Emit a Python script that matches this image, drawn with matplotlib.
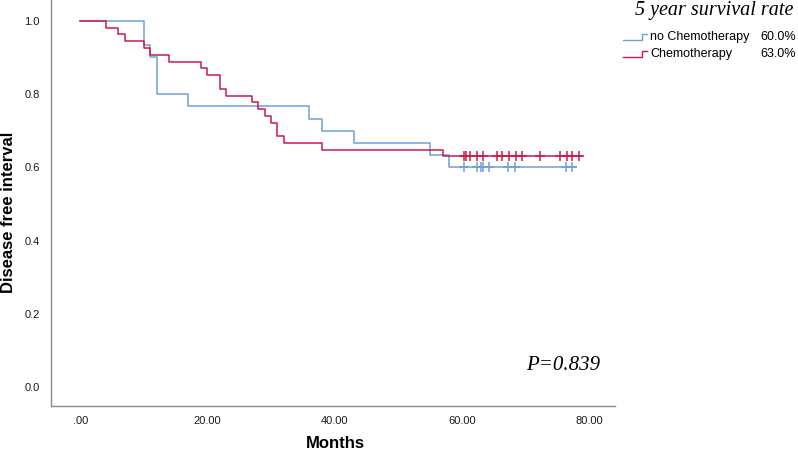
import numpy as np
import matplotlib
matplotlib.use("Agg")
import matplotlib.pyplot as plt
from matplotlib.lines import Line2D

# Kaplan-Meier steps (months, survival after the drop)
no_chemo_times = [0, 10, 11, 12, 17, 36, 38, 43, 55, 58]
no_chemo_surv = [1.0, 0.933, 0.9, 0.8, 0.767, 0.733, 0.7, 0.667, 0.633, 0.6]
no_chemo_end = 78.0
no_chemo_censored = [60.3, 62.4, 63.1, 63.4, 64.3, 67.3, 68.3, 76.4, 77.3]

chemo_times = [0, 4, 6, 7, 10, 11, 14, 19, 20, 22, 23, 27, 28, 29, 30, 31, 32, 38, 57]
chemo_surv = [1.0, 0.981, 0.963, 0.944, 0.926, 0.907, 0.889, 0.870, 0.852, 0.815,
              0.796, 0.778, 0.759, 0.741, 0.722, 0.685, 0.667, 0.648, 0.630]
chemo_end = 78.9
chemo_censored = [60.3, 60.7, 61.3, 62.4, 63.3, 65.5, 66.4, 67.5, 68.5, 69.4,
                  72.3, 75.5, 76.5, 77.4, 78.5]

group_names = ["no Chemotherapy", "Chemotherapy"]
five_year_rates = ["60.0%", "63.0%"]
x_ticks = [0, 20, 40, 60, 80]
x_tick_labels = [".00", "20.00", "40.00", "60.00", "80.00"]
y_ticks = [0.0, 0.2, 0.4, 0.6, 0.8, 1.0]
p_value_text = "P=0.839"

BLUE = "#6f9fd6"
RED = "#cc1a4c"
SANS = ["Liberation Sans", "DejaVu Sans"]
SERIF = ["Liberation Serif", "DejaVu Serif"]

W, H = 798, 453


def fx(px):
    return px / W


def fy(py):
    return 1 - py / H


def surv_at(times, surv, t):
    idx = np.searchsorted(times, t, side="right") - 1
    return np.asarray(surv)[idx]


fig = plt.figure(figsize=(W / 100, H / 100), dpi=100)
ax = fig.add_axes([fx(51), fy(406), fx(615) - fx(51), fy(0) - fy(406)])

series = [
    (no_chemo_times, no_chemo_surv, no_chemo_end, no_chemo_censored, BLUE),
    (chemo_times, chemo_surv, chemo_end, chemo_censored, RED),
]
for times, surv, end, censored, color in series:
    ax.step(times + [end], surv + [surv[-1]], where="post", color=color, linewidth=1.1)
    ax.plot(censored, surv_at(times, surv, censored), linestyle="none", marker="+",
            markersize=7, markeredgewidth=1.1, color=color)

ax.set_xlim(-4.6, 84.1)
ax.set_ylim(-0.052, 1.057)
ax.set_xticks(x_ticks)
ax.set_xticklabels(x_tick_labels)
ax.set_yticks(y_ticks)
ax.set_yticklabels([f"{v:.1f}" for v in y_ticks])
ax.tick_params(length=0, labelsize=8, labelcolor="#1a1a1a")
ax.tick_params(axis="y", pad=8)
ax.tick_params(axis="x", pad=7)
for lab in ax.get_xticklabels() + ax.get_yticklabels():
    lab.set_family(SANS)
for side in ("top", "right"):
    ax.spines[side].set_visible(False)
for side in ("left", "bottom"):
    ax.spines[side].set_color("#8a8a8a")
    ax.spines[side].set_linewidth(1.0)

fig.text(fx(9), fy(212), "Disease free interval", rotation=90, ha="center", va="center",
         fontsize=12, fontweight="bold", family=SANS)
fig.text(fx(335), fy(444), "Months", ha="center", va="center",
         fontsize=12, fontweight="bold", family=SANS)

fig.text(fx(526), fy(365), p_value_text, ha="left", va="center",
         fontsize=15, style="italic", family=SERIF)

# legend drawn by hand to mimic the SPSS layout
fig.text(fx(635), fy(11), "5 year survival rate", ha="left", va="center",
         fontsize=14.5, style="italic", family=SERIF)
for i, (name, rate, color) in enumerate(zip(group_names, five_year_rates, [BLUE, RED])):
    yc = 37 + 17 * i
    fig.add_artist(Line2D([fx(623), fx(642), fx(642), fx(647)],
                          [fy(yc + 3), fy(yc + 3), fy(yc - 3), fy(yc - 3)],
                          color=color, linewidth=1.0, transform=fig.transFigure))
    fig.text(fx(650), fy(yc), name, ha="left", va="center", fontsize=9, family=SANS)
    fig.text(fx(796), fy(yc), rate, ha="right", va="center", fontsize=9, family=SANS)

fig.savefig("out.png", dpi=100)
